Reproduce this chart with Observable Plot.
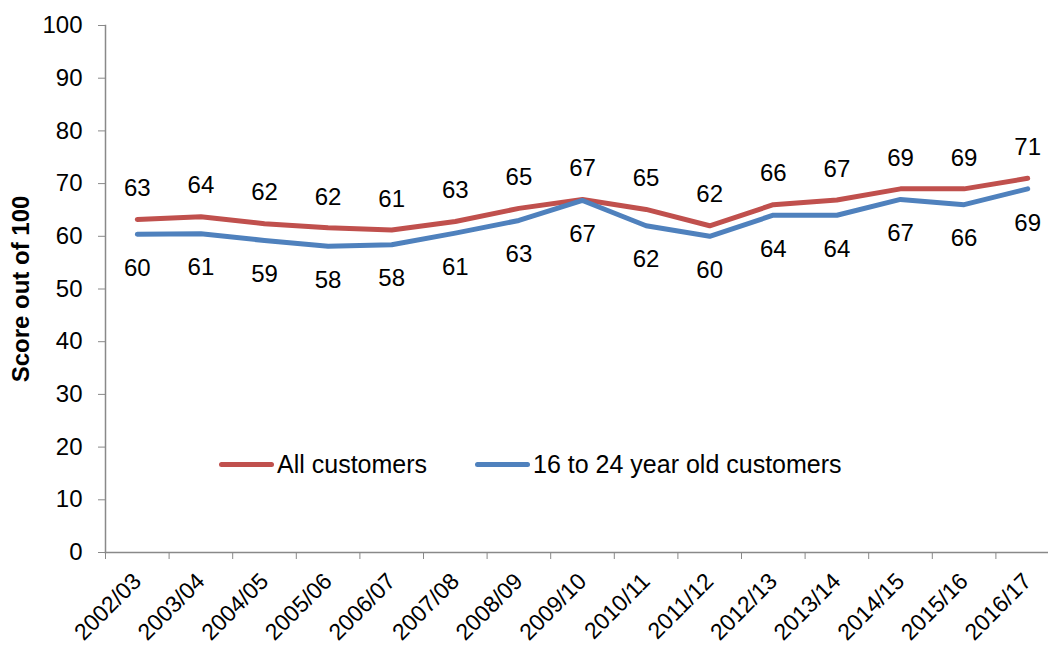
<!DOCTYPE html>
<html>
<head>
<meta charset="utf-8">
<script src="https://cdn.jsdelivr.net/npm/d3@7"></script>
<script src="https://cdn.jsdelivr.net/npm/@observablehq/plot@0.6"></script>
<style>
  html, body { margin: 0; padding: 0; background: #fff; }
  #wrap { position: relative; width: 1048px; height: 646px; overflow: hidden; font-family: "Liberation Sans", Arial, sans-serif; }
  .legend { position: absolute; top: 450px; left: 219px; display: flex; align-items: center; font-size: 25px; color: #000; white-space: nowrap; }
  .legend .item { display: flex; align-items: center; }
  .legend .sw { width: 55px; height: 5px; border-radius: 3px; margin-right: 3px; }
</style>
</head>
<body>
<div id="wrap"></div>
<script>
const categories = ["2002/03","2003/04","2004/05","2005/06","2006/07","2007/08","2008/09","2009/10","2010/11","2011/12","2012/13","2013/14","2014/15","2015/16","2016/17"];
const allCustomers = [63.2, 63.7, 62.4, 61.6, 61.2, 62.8, 65.3, 67.0, 65.1, 62.0, 66.0, 66.9, 69.0, 69.0, 71.0];
const youngCustomers = [60.4, 60.5, 59.2, 58.1, 58.4, 60.6, 63.0, 66.8, 62.0, 60.0, 64.0, 64.0, 67.0, 66.0, 69.0];
const allLabels = [63, 64, 62, 62, 61, 63, 65, 67, 65, 62, 66, 67, 69, 69, 71];
const youngLabels = [60, 61, 59, 58, 58, 61, 63, 67, 62, 60, 64, 64, 67, 66, 69];
const yTicks = [0, 10, 20, 30, 40, 50, 60, 70, 80, 90, 100];
const seriesNames = ["All customers", "16 to 24 year old customers"];
const seriesColors = ["#C0504D", "#4F81BD"];

const allData = categories.map((c, i) => ({i, cat: c, value: allCustomers[i], label: allLabels[i]}));
const youngData = categories.map((c, i) => ({i, cat: c, value: youngCustomers[i], label: youngLabels[i]}));
const idx = categories.map((c, i) => i);
const bounds = [...idx.map(i => i - 0.5), categories.length - 0.5];

const chart = Plot.plot({
  width: 1048,
  height: 646,
  marginTop: 25,
  marginBottom: 94,
  marginLeft: 105,
  marginRight: 0,
  style: {fontFamily: "'Liberation Sans', Arial, sans-serif", background: "white", overflow: "visible"},
  x: {type: "linear", domain: [-0.5, categories.length - 0.5], range: [105, 1059]},
  y: {domain: [0, 100], range: [552, 25]},
  marks: [
    Plot.axisY(yTicks, {tickSize: 7, tickPadding: 16, stroke: "#898989", fill: "#000", fontSize: 24, label: null}),
    Plot.axisX(bounds, {tickSize: 7, tickFormat: () => "", stroke: "#898989", label: null}),
    Plot.axisX(idx, {tickSize: 0, tickPadding: 25, tickRotate: -45, tickFormat: i => categories[i], fill: "#000", fontSize: 23, label: null}),
    Plot.frame({anchor: "left", stroke: "#898989", strokeWidth: 1.5}),
    Plot.frame({anchor: "bottom", stroke: "#898989", strokeWidth: 1.5}),
    Plot.line(allData, {x: "i", y: "value", stroke: seriesColors[0], strokeWidth: 5, strokeLinejoin: "round", strokeLinecap: "round"}),
    Plot.line(youngData, {x: "i", y: "value", stroke: seriesColors[1], strokeWidth: 5, strokeLinejoin: "round", strokeLinecap: "round"}),
    Plot.text(allData, {x: "i", y: "value", text: "label", dy: -31, fontSize: 24, fill: "#000"}),
    Plot.text(youngData, {x: "i", y: "value", text: "label", dy: 34, fontSize: 24, fill: "#000"}),
    Plot.text(["Score out of 100"], {frameAnchor: "left", textAnchor: "middle", dx: -84, rotate: -90, fontSize: 24, fontWeight: "bold", fill: "#000"})
  ]
});

const wrap = document.getElementById("wrap");
wrap.appendChild(chart);
const legend = document.createElement("div");
legend.className = "legend";
seriesNames.forEach((name, k) => {
  const item = document.createElement("div");
  item.className = "item";
  if (k > 0) item.style.marginLeft = "48px";
  const sw = document.createElement("span");
  sw.className = "sw";
  sw.style.background = seriesColors[k];
  const t = document.createElement("span");
  t.textContent = name;
  item.appendChild(sw);
  item.appendChild(t);
  legend.appendChild(item);
});
wrap.appendChild(legend);
</script>
</body>
</html>
